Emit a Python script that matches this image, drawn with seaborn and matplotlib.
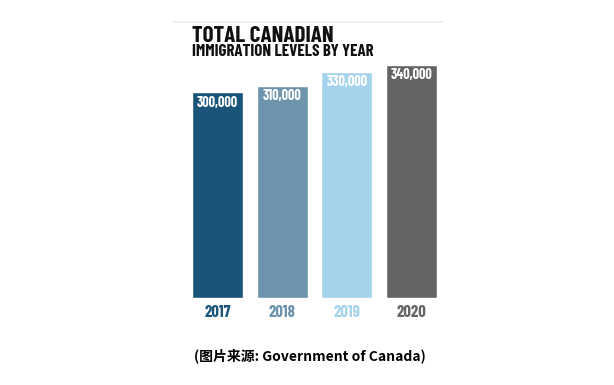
import matplotlib
matplotlib.use("Agg")
import matplotlib.pyplot as plt
import seaborn as sns
import pandas as pd
from matplotlib.lines import Line2D

years = ["2017", "2018", "2019", "2020"]
levels = [300000, 310000, 330000, 340000]
value_labels = ["300,000", "310,000", "330,000", "340,000"]
colors = ["#1a5478", "#6e93ad", "#a6d3ec", "#646464"]
title_1 = "TOTAL CANADIAN"
title_2 = "IMMIGRATION LEVELS BY YEAR"
caption = "(图片来源: Government of Canada)"

sns.set_theme(style="white")
plt.rcParams['font.family'] = ['Barlow Condensed', 'DejaVu Sans']

df = pd.DataFrame({"year": years, "level": levels})

fig = plt.figure(figsize=(6.14, 3.85), dpi=100)
ax = fig.add_axes([185.2/614, (385-298)/385, 258.6/614, (298-65)/385])
sns.barplot(data=df, x="year", y="level", hue="year", palette=colors,
            legend=False, width=0.79, ax=ax, saturation=1)
ax.set_ylim(0, 340000)
ax.set_xlim(-0.5, 3.5)
for s in ax.spines.values():
    s.set_visible(False)
ax.set_yticks([])
ax.set_xlabel("")
ax.set_ylabel("")
ax.tick_params(axis="x", length=0, pad=5)
ax.set_xticks(range(len(years)))
ax.set_xticklabels(years, fontsize=12, fontweight="bold")
for lbl, c in zip(ax.get_xticklabels(), colors):
    lbl.set_color(c)

for i, (v, t) in enumerate(zip(levels, value_labels)):
    ax.annotate(t, (i, v), xytext=(0, -2.5), textcoords="offset points",
                ha="center", va="top", color="white", fontsize=10.2,
                fontweight="bold")

fig.add_artist(Line2D([174/614, 442/614], [1-21.5/385, 1-21.5/385],
                      color="#eeeeee", lw=1.2))
fig.text(192/614, 1-42/385, title_1, fontsize=16.6, fontweight="bold",
         color="#111111", ha="left", va="baseline")
fig.text(192/614, 1-56.5/385, title_2, fontsize=12.2, fontweight="bold",
         color="#111111", ha="left", va="baseline")
fig.text(310/614, 1-356/385, caption, fontsize=10, fontweight="bold",
         color="black", ha="center", va="center",
         family=['Noto Sans CJK SC', 'DejaVu Sans'])

fig.savefig("out.png", dpi=100, facecolor="white")
